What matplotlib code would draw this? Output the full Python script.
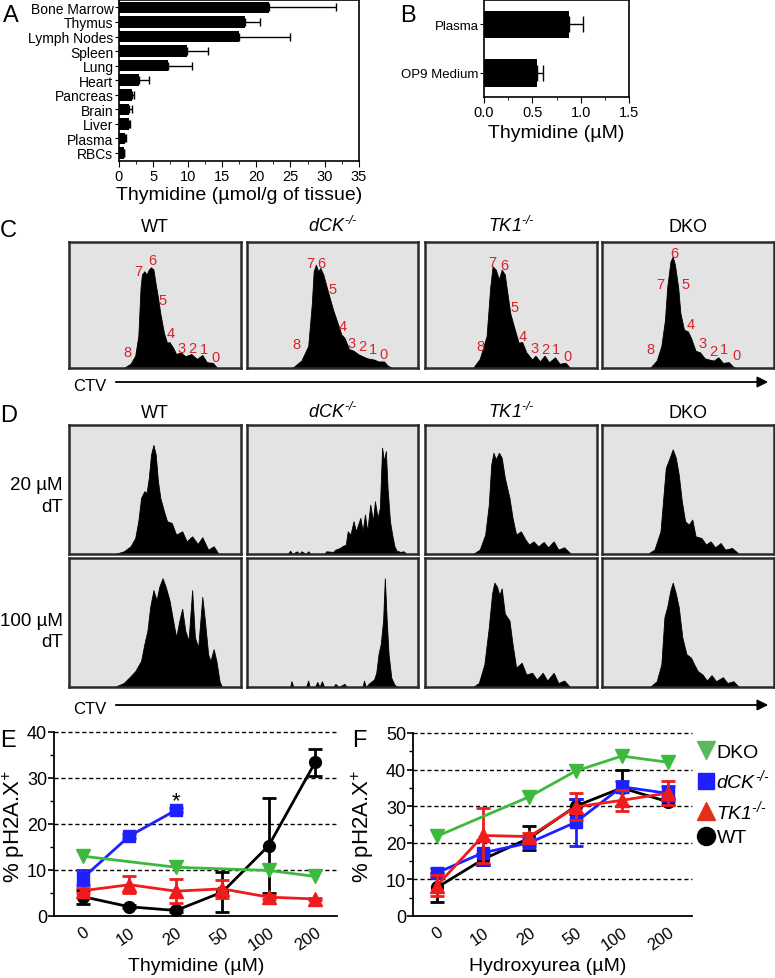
import matplotlib.pyplot as plt
from matplotlib.lines import Line2D
from matplotlib.patches import FancyArrowPatch
import numpy as np

plt.rcParams['font.family'] = ['Liberation Sans', 'DejaVu Sans']
plt.rcParams['mathtext.fontset'] = 'custom'
# only the gene names and the "+" use mathtext, so italic rm is fine here
plt.rcParams['mathtext.rm'] = 'Liberation Sans:italic'
plt.rcParams['mathtext.it'] = 'Liberation Sans:italic'
plt.rcParams['mathtext.bf'] = 'Liberation Sans:bold'
plt.rcParams['axes.linewidth'] = 1.2

# ---- panel A: thymidine per tissue
tissues = ['Bone Marrow', 'Thymus', 'Lymph Nodes', 'Spleen', 'Lung', 'Heart',
           'Pancreas', 'Brain', 'Liver', 'Plasma', 'RBCs']
tissue_dt = [21.9, 18.4, 17.5, 9.85, 7.1, 2.95, 1.95, 1.5, 1.4, 0.9, 0.7]
tissue_err = [9.7, 2.1, 7.5, 3.2, 3.5, 1.45, 0.25, 0.45, 0.2, 0.1, 0.05]

# ---- panel B
media = ['Plasma', 'OP9 Medium']
media_dt = [0.88, 0.55]
media_err = [0.14, 0.06]

genotypes = ['WT', r'$dCK^{\text{-/-}}$', r'$TK1^{\text{-/-}}$', 'DKO']
gen_numbers = ['8', '7', '6', '5', '4', '3', '2', '1', '0']

# ---- panel C: CTV histograms (CTV channel 0-100, % of max count)
c_wt_x = [31.8, 35.8, 38.5, 40.3, 41.6, 42.4, 43.8, 45.1, 46.4, 47.7, 49.1, 50.4, 51.7, 53.1, 55.2, 57.0,
          58.4, 60.5, 62.3, 65.0, 67.6, 71.1, 74.3, 77.5, 80.1, 83.6, 86.2]
c_wt_y = [0, 3.4, 9.8, 25.3, 63.9, 74.2, 76.8, 74.2, 78.1, 79.9, 78.1, 66.5, 56.2, 43.3, 27.8, 20.1,
          20.6, 16.2, 11.1, 12.4, 9.3, 11.1, 7.2, 10.3, 4.6, 4.1, 0]
c_wt_lab_x = [34.0, 40.3, 48.5, 54.4, 58.9, 65.5, 71.6, 78.2, 84.9]
c_wt_lab_y = [12.4, 76.8, 85.8, 53.6, 27.8, 16.2, 15.7, 15.0, 8.5]

c_dck_x = [26.5, 31.8, 35.8, 37.9, 39.0, 40.3, 41.6, 42.9, 44.6, 47.7, 50.4, 53.0, 55.2, 57.0, 59.7, 62.3,
           65.0, 67.6, 70.3, 74.3, 76.9, 80.1, 82.2, 84.9]
c_dck_y = [0, 5.9, 17.5, 51.0, 76.8, 82.0, 76.8, 79.4, 74.2, 58.8, 45.9, 35.6, 26.5, 24.0, 15.0, 13.7,
           11.0, 9.3, 7.7, 6.7, 5.2, 5.2, 2.0, 0]
c_dck_lab_x = [29.2, 37.1, 43.2, 49.9, 55.7, 61.3, 67.4, 73.7, 80.1]
c_dck_lab_y = [18.8, 83.2, 83.2, 62.6, 33.0, 19.6, 17.5, 15.0, 11.0]

c_tk1_x = [27.9, 31.8, 35.8, 37.9, 39.3, 41.1, 43.0, 44.6, 46.4, 47.7, 49.6, 51.7, 54.4, 56.5, 58.9, 62.3,
           64.2, 66.8, 69.5, 72.1, 75.6, 78.2, 81.7, 84.4]
c_tk1_y = [0, 7.2, 25.3, 63.9, 80.7, 78.1, 70.4, 78.1, 74.2, 61.3, 43.3, 33.0, 20.1, 20.6, 12.4, 6.7,
           9.8, 5.2, 9.8, 4.6, 8.5, 3.4, 4.1, 0]
c_tk1_lab_x = [32.4, 39.3, 46.4, 52.3, 57.0, 63.7, 69.8, 76.4, 82.8]
c_tk1_lab_y = [17.5, 84.5, 82.0, 48.5, 25.3, 16.2, 15.0, 15.0, 9.8]

c_dko_x = [27.9, 31.8, 34.5, 36.6, 37.9, 39.8, 41.1, 42.4, 44.3, 45.6, 47.7, 49.9, 51.7, 54.4, 57.0, 59.7,
           62.3, 65.0, 67.6, 70.3, 73.7, 76.4, 78.2]
c_dko_y = [0, 5.9, 17.5, 38.1, 63.9, 84.5, 88.4, 82.0, 63.9, 43.3, 30.4, 29.1, 24.0, 13.7, 12.4, 7.7,
           6.7, 5.9, 8.5, 4.1, 4.6, 0.8, 0]
c_dko_lab_x = [27.9, 34.0, 41.9, 48.3, 51.7, 58.4, 64.5, 71.1, 78.2]
c_dko_lab_y = [15.0, 66.5, 91.0, 66.5, 35.0, 20.1, 13.7, 15.0, 10.3]

# ---- panel D: 20 uM dT
d20_wt_x = [26.5, 31.8, 35.8, 38.5, 40.3, 41.9, 43.8, 45.1, 46.4, 47.7, 49.1, 50.4, 51.7, 53.1, 55.2, 57.0,
            59.7, 62.3, 65.8, 68.4, 71.6, 74.8, 77.5, 80.9, 84.1, 87.0]
d20_wt_y = [0, 2.0, 6.0, 12.4, 25.4, 43.5, 48.7, 47.4, 59.1, 77.2, 84.5, 77.2, 56.5, 43.5, 33.2, 25.4,
            24.1, 15.0, 17.6, 9.8, 13.7, 7.8, 13.0, 3.4, 6.0, 0]
d20_dck_x = [23.9, 25.2, 26.5, 29.2, 30.5, 31.8, 34.5, 35.8, 37.1, 45.1, 46.4, 50.4, 51.7, 54.4, 55.7, 57.8,
             58.9, 60.5, 62.3, 63.7, 65.0, 66.3, 67.6, 69.0, 70.3, 72.1, 73.7, 74.8, 76.4, 77.7, 79.0, 80.1,
             81.2, 82.2, 83.6, 84.9, 86.2, 87.5, 89.7, 91.5, 93.4]
d20_dck_y = [0, 2.6, 0, 2.1, 0, 2.1, 0, 2.1, 0, 0, 2.1, 1.6, 3.4, 4.7, 6.0, 7.3,
             17.6, 15.0, 25.4, 17.6, 22.8, 28.0, 17.6, 30.6, 17.6, 38.3, 25.4, 40.9, 28.0, 35.8, 82.4, 72.0,
             79.8, 51.3, 25.4, 15.0, 6.0, 2.6, 1.6, 2.1, 0]
d20_tk1_x = [27.9, 31.8, 35.0, 37.1, 38.5, 39.8, 41.1, 43.0, 44.6, 46.4, 49.1, 50.9, 53.0, 55.7, 58.4, 60.5,
             63.1, 65.8, 69.0, 71.6, 74.8, 77.5, 80.9, 84.9]
d20_tk1_y = [0, 3.4, 15.0, 38.3, 69.4, 78.5, 73.3, 78.5, 74.6, 59.1, 43.5, 28.0, 15.0, 17.6, 11.1, 7.3,
             9.8, 6.0, 9.3, 5.2, 9.8, 3.4, 5.2, 0]
d20_dko_x = [26.5, 30.5, 34.0, 35.8, 37.1, 39.0, 41.1, 42.9, 44.6, 46.4, 48.3, 50.4, 52.5, 54.4, 57.8, 60.5,
             63.1, 65.8, 69.0, 71.6, 75.6, 79.6]
d20_dko_y = [0, 3.4, 17.6, 46.1, 66.8, 73.3, 81.1, 74.6, 61.7, 40.9, 25.4, 22.8, 26.7, 13.7, 12.4, 7.3,
             9.8, 5.2, 8.5, 3.4, 4.7, 0]

# ---- panel D: 100 uM dT
d100_wt_x = [26.5, 31.8, 35.8, 38.5, 41.9, 43.8, 45.6, 47.2, 49.1, 50.9, 52.5, 54.4, 56.2, 58.4, 60.5, 62.3,
             64.2, 65.8, 67.6, 69.5, 71.6, 73.2, 75.1, 77.5, 79.0, 80.9, 82.2, 84.1, 85.7, 87.5, 88.9]
d100_wt_y = [0, 3.1, 8.4, 12.3, 20.2, 33.2, 43.7, 62.0, 75.1, 67.3, 77.7, 84.3, 77.7, 67.3, 51.6, 38.5,
             51.6, 60.7, 43.7, 35.9, 75.1, 38.5, 30.6, 69.9, 51.6, 25.4, 20.2, 29.3, 20.2, 4.5, 0]
d100_dck_x = [25.2, 26.0, 27.1, 34.5, 35.8, 36.6, 39.8, 41.1, 42.4, 43.8, 45.1, 50.4, 51.7, 53.6, 57.0, 58.4,
              67.6, 68.4, 69.5, 71.6, 74.3, 75.6, 76.9, 78.2, 79.6, 80.6, 81.7, 82.8, 84.4, 86.2, 88.1]
d100_dck_y = [0, 4.5, 0, 0, 5.0, 0, 0, 3.9, 0, 4.5, 0, 0, 2.4, 0, 2.4, 0,
              0, 5.0, 0, 3.1, 5.8, 11.0, 25.4, 33.2, 51.6, 84.3, 51.6, 25.4, 7.1, 1.8, 0]
d100_tk1_x = [27.9, 31.3, 34.5, 37.1, 39.0, 40.3, 41.9, 43.2, 44.6, 46.4, 49.1, 50.9, 53.0, 56.2, 58.9, 62.3,
              65.0, 68.4, 71.1, 74.8, 77.5, 80.9, 84.4]
d100_tk1_y = [0, 3.1, 17.5, 46.3, 72.5, 80.9, 77.7, 71.2, 76.4, 56.8, 51.6, 33.2, 14.9, 18.8, 9.7, 11.0,
              5.8, 11.0, 5.0, 11.0, 3.1, 5.0, 0]
d100_dko_x = [27.9, 31.8, 34.5, 36.3, 37.9, 39.8, 41.1, 42.9, 44.6, 46.7, 49.1, 51.7, 53.6, 55.7, 58.4, 61.0,
              63.7, 66.3, 70.3, 72.9, 76.4, 79.6]
d100_dko_y = [0, 4.5, 17.5, 54.2, 62.0, 75.1, 80.9, 72.5, 62.0, 38.5, 25.4, 22.8, 17.5, 12.3, 9.7, 5.0,
              9.2, 4.5, 7.6, 3.1, 4.5, 0]

# ---- panels E / F: % pH2A.X+
conc = ['0', '10', '20', '50', '100', '200']
e_wt = [4.2, 2.0, 1.2, 5.2, 15.3, 33.4]
e_wt_err = [1.5, 0.3, 0.3, 4.4, 10.4, 3.0]
e_tk1 = [5.5, 6.8, 5.4, 5.9, 4.1, 3.7]
e_tk1_err = [0.6, 1.9, 2.6, 1.9, 0.4, 0.3]
e_dck_idx = [0, 1, 2]
e_dck = [8.3, 17.4, 23.0]
e_dck_err = [1.6, 0.4, 0.4]
e_dko_idx = [0, 2, 4, 5]
e_dko = [13.0, 10.6, 9.9, 8.6]

f_wt = [7.8, 15.5, 21.3, 30.0, 35.0, 31.2]
f_wt_err = [4.0, 1.5, 3.4, 2.0, 5.0, 1.0]
f_tk1 = [8.3, 22.0, 21.7, 29.8, 31.6, 33.6]
f_tk1_err = [2.8, 7.5, 1.0, 3.7, 2.8, 3.2]
f_dck = [11.8, 17.3, 20.0, 25.6, 35.3, 33.5]
f_dck_err = [1.2, 3.5, 1.0, 6.4, 1.5, 2.0]
f_dko_idx = [0, 2, 3, 4, 5]
f_dko = [21.8, 32.6, 39.6, 43.7, 42.0]

GREEN = '#3dba3d'
BLUE = '#1f1fff'
RED = '#ee1c1c'
NUMRED = '#d8232a'

W, H = 775, 979
fig = plt.figure(figsize=(W / 100, H / 100), dpi=100)


def add_ax(l, t, r, b):
    return fig.add_axes([l / W, 1 - b / H, (r - l) / W, (b - t) / H])


def ftext(x, y, s, **kw):
    return fig.text(x / W, 1 - y / H, s, **kw)


# panel letters
for lt, x, y in [('A', 3, 22), ('B', 400, 22), ('C', 0, 237), ('D', 0, 422), ('E', 0, 747), ('F', 352, 747)]:
    ftext(x, y, lt, fontsize=17, va='baseline')

# ---- A
axA = add_ax(119, 1, 359, 162)
yA = np.arange(len(tissues))
axA.barh(yA, tissue_dt, height=0.8, color='black')
axA.errorbar(tissue_dt, yA, xerr=[np.zeros(len(yA)), tissue_err], fmt='none',
             ecolor='black', elinewidth=1, capsize=3, capthick=1)
axA.set_yticks(yA)
axA.set_yticklabels(tissues, fontsize=10)
axA.set_ylim(10.55, -0.51)
axA.set_xlim(0, 35)
axA.set_xticks(range(0, 36, 5))
axA.set_xticks(np.arange(2.5, 35, 5), minor=True)
axA.tick_params(axis='x', labelsize=10.5, length=4, pad=2)
axA.tick_params(axis='x', which='minor', length=2)
axA.tick_params(axis='y', length=3, pad=1)
axA.set_xlabel('Thymidine (µmol/g of tissue)', fontsize=14, labelpad=2)

# ---- B
axB = add_ax(484, 1, 629, 98)
yB = np.arange(len(media))
axB.barh(yB, media_dt, height=0.56, color='black')
axB.errorbar(media_dt, yB, xerr=[np.zeros(len(yB)), media_err], fmt='none',
             ecolor='black', elinewidth=1, capsize=6, capthick=1)
axB.set_yticks(yB)
axB.set_yticklabels(media, fontsize=9.5)
axB.set_ylim(1.495, -0.505)
axB.set_xlim(0, 1.5)
axB.set_xticks([0, 0.5, 1.0, 1.5])
axB.set_xticklabels(['0.0', '0.5', '1.0', '1.5'])
axB.set_xticks([0.25, 0.75, 1.25], minor=True)
axB.tick_params(axis='x', labelsize=10.5, length=4, pad=2)
axB.tick_params(axis='x', which='minor', length=2)
axB.tick_params(axis='y', length=3, pad=1)
axB.set_xlabel('Thymidine (µM)', fontsize=14, labelpad=3)

# ---- C / D histograms
box_x = [(69, 241), (247, 418), (425, 597), (602, 774)]


def draw_hist(ax, xs, ys):
    ax.fill_between(xs, ys, 0, color='black', lw=0.6)
    ax.set_xlim(0, 100)
    ax.set_ylim(0, 100)
    ax.set_facecolor('#e3e3e3')
    ax.set_xticks([])
    ax.set_yticks([])
    for s in ax.spines.values():
        s.set_linewidth(1.8)
        s.set_color('#2a2a2a')


c_hists = [(c_wt_x, c_wt_y, c_wt_lab_x, c_wt_lab_y),
           (c_dck_x, c_dck_y, c_dck_lab_x, c_dck_lab_y),
           (c_tk1_x, c_tk1_y, c_tk1_lab_x, c_tk1_lab_y),
           (c_dko_x, c_dko_y, c_dko_lab_x, c_dko_lab_y)]
for (l, r), g, (hx, hy, lx, ly) in zip(box_x, genotypes, c_hists):
    ax = add_ax(l, 243, r, 369)
    draw_hist(ax, hx, hy)
    for s, tx, ty in zip(gen_numbers, lx, ly):
        ax.text(tx, ty, s, color=NUMRED, fontsize=10.5, ha='center', va='center')
    ftext((l + r) / 2, 232, g, fontsize=13, ha='center', va='baseline')

d20 = [(d20_wt_x, d20_wt_y), (d20_dck_x, d20_dck_y), (d20_tk1_x, d20_tk1_y), (d20_dko_x, d20_dko_y)]
d100 = [(d100_wt_x, d100_wt_y), (d100_dck_x, d100_dck_y), (d100_tk1_x, d100_tk1_y), (d100_dko_x, d100_dko_y)]
for (l, r), g, h20, h100 in zip(box_x, genotypes, d20, d100):
    draw_hist(add_ax(l, 426, r, 555), *h20)
    draw_hist(add_ax(l, 559, r, 688), *h100)
    ftext((l + r) / 2, 418, g, fontsize=13, ha='center', va='baseline')

ftext(63, 490, '20 µM', fontsize=13.5, ha='right', va='baseline')
ftext(63, 512, 'dT', fontsize=13.5, ha='right', va='baseline')
ftext(63, 626, '100 µM', fontsize=13.5, ha='right', va='baseline')
ftext(63, 647, 'dT', fontsize=13.5, ha='right', va='baseline')

# CTV arrows
for yy in [383, 706]:
    ftext(73, yy + 8, 'CTV', fontsize=12, va='baseline')
    fig.add_artist(FancyArrowPatch((113 / W, 1 - yy / H), (771 / W, 1 - yy / H),
                                   transform=fig.transFigure, arrowstyle='-|>',
                                   mutation_scale=16, lw=1.3, color='black'))


# ---- E / F line plots
def style_line_ax(ax, ymax, xlims):
    ax.spines['top'].set_visible(False)
    ax.spines['right'].set_visible(False)
    ax.spines['left'].set_linewidth(1.3)
    ax.spines['bottom'].set_linewidth(1.3)
    for v in range(10, ymax + 1, 10):
        ax.axhline(v, color='black', lw=1, ls=(0, (3, 2)), zorder=0, clip_on=False)
    ax.set_ylim(0, ymax)
    ax.set_xlim(*xlims)
    ax.set_yticks(range(0, ymax + 1, 10))
    ax.set_yticks(range(5, ymax, 10), minor=True)
    ax.tick_params(axis='y', labelsize=13, length=4, width=1.2, pad=1)
    ax.tick_params(axis='y', which='minor', length=3, width=1)
    ax.set_xticks(range(len(conc)))
    ax.set_xticklabels(conc, rotation=35, ha='right', va='top', rotation_mode='anchor')
    ax.tick_params(axis='x', labelsize=12, length=0, pad=6)


eb = dict(lw=2, elinewidth=2, capsize=5, capthick=2)
x6 = np.arange(len(conc))

axE = add_ax(54, 733, 337, 917)
style_line_ax(axE, 40, (-0.625, 5.47))
axE.errorbar(x6, e_wt, yerr=e_wt_err, color='black', marker='o', ms=8.5, zorder=3, **eb)
axE.errorbar(x6, e_tk1, yerr=e_tk1_err, color=RED, marker='^', ms=9.5, zorder=4, **eb)
axE.errorbar(e_dck_idx, e_dck, yerr=e_dck_err, color=BLUE, marker='s', ms=9, zorder=5, **eb)
axE.plot(e_dko_idx, e_dko, color=GREEN, marker='v', ms=9.5, lw=2, zorder=6)
axE.text(2, 23.9, '*', fontsize=16, ha='center', va='baseline')
ftext(14, 826, '% pH2A.X$^{+}$', fontsize=16, rotation=90, ha='center', va='center')
ftext(196, 971, 'Thymidine (µM)', fontsize=14, ha='center', va='baseline')

axF = add_ax(413, 734, 692, 917)
style_line_ax(axF, 50, (-0.52, 5.52))
axF.errorbar(x6, f_wt, yerr=f_wt_err, color='black', marker='o', ms=8.5, zorder=3, **eb)
axF.errorbar(x6, f_dck, yerr=f_dck_err, color=BLUE, marker='s', ms=9, zorder=4, **eb)
axF.errorbar(x6, f_tk1, yerr=f_tk1_err, color=RED, marker='^', ms=9.5, zorder=5, **eb)
axF.plot(f_dko_idx, f_dko, color=GREEN, marker='v', ms=9.5, lw=2, zorder=6)
ftext(363, 826, '% pH2A.X$^{+}$', fontsize=16, rotation=90, ha='center', va='center')
ftext(548, 971, 'Hydroxyurea (µM)', fontsize=14, ha='center', va='baseline')

handles = [Line2D([], [], ls='none', marker='v', color='#5cb85c', ms=13),
           Line2D([], [], ls='none', marker='s', color=BLUE, ms=12),
           Line2D([], [], ls='none', marker='^', color='#e0301a', ms=13),
           Line2D([], [], ls='none', marker='o', color='black', ms=13)]
leg_labels = ['DKO', r'$dCK^{\text{-/-}}$', r'$TK1^{\text{-/-}}$', 'WT']
axF.legend(handles, leg_labels, loc='upper left', bbox_to_anchor=(698 / W, 1 - 744 / H),
           bbox_transform=fig.transFigure, frameon=False, fontsize=14, handlelength=0.8,
           handletextpad=0.15, labelspacing=0.35, borderpad=0, borderaxespad=0)

fig.savefig('out.png', dpi=100)
